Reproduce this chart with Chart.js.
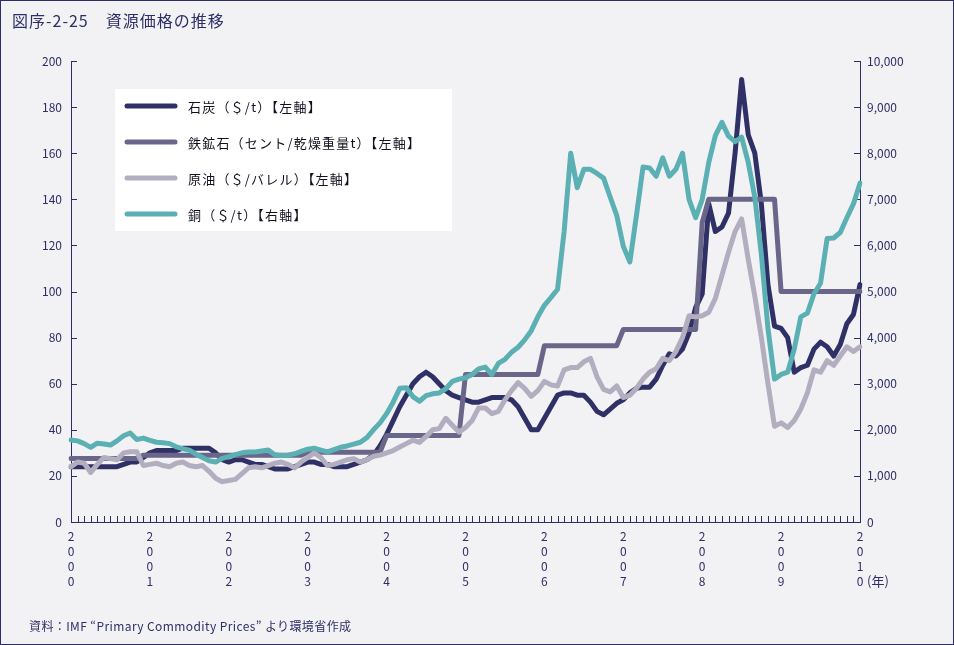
<!DOCTYPE html>
<html lang="ja">
<head>
<meta charset="utf-8">
<script src="https://cdn.jsdelivr.net/npm/chart.js@4.4.1/dist/chart.umd.min.js"></script>
<style>
  html, body { margin: 0; padding: 0; background: #f2f2f5; }
  #wrap { position: relative; width: 954px; height: 645px; overflow: hidden; background: #f2f2f5; }
  #c { position: absolute; left: 0; top: 0; }
  .txt { position: absolute; font-family: 'Noto Sans CJK JP', sans-serif; color: #2e2e66; white-space: nowrap; }
  #title { left: 12px; top: 11px; font-size: 16px; line-height: 18px; letter-spacing: 1px; }
  #note { left: 29px; top: 619px; font-size: 12px; line-height: 14px; letter-spacing: 0.4px; }
  #unit { left: 867px; top: 573px; font-size: 13px; line-height: 15px; }
  #frame { position: absolute; left: 0; top: 0; width: 954px; height: 645px; box-sizing: border-box; border: 1px solid #2e2e66; pointer-events: none; }
</style>
</head>
<body>
<div id="wrap">
  <canvas id="c" width="954" height="645"></canvas>
  <div class="txt" id="title">図序-2-25　資源価格の推移</div>
  <div class="txt" id="note">資料：IMF “Primary Commodity Prices” より環境省作成</div>
  <div class="txt" id="unit">(年)</div>
  <div id="frame"></div>
</div>
<script>
// ---------- data (monthly, Jan 2000 - Jan 2010) ----------
const years = ['2000','2001','2002','2003','2004','2005','2006','2007','2008','2009','2010'];

const seriesNames = [
  '石炭（＄/t）【左軸】',
  '鉄鉱石（セント/乾燥重量t）【左軸】',
  '原油（＄/バレル）【左軸】',
  '銅（＄/t）【右軸】'
];

// Coal ($/t) - left axis
const coal = [
  24,24,24,24,24,24,24,24,25,26,26,28,
  30,31,31,31,31,32,32,32,32,32,30,27,
  26,27,27,26,25,25,24,23,23,23,24,25,
  26,26,25,25,24,24,24,25,26,27,29,33,
  38,44,50,55,60,63,65,63,60,57,55,54,
  53,52,52,53,54,54,54,53,50,45,40,40,
  45,50,55,56,56,55,55,52,48,46.5,49,51.5,
  53,56,58,58.5,58.5,62,68,73,72,75,82,93,
  99,138,126,128,134,160,192,168,160,138,103,85,
  84,80,65,67,68,75,78,76,72,77,86,90,
  103
];

// Iron ore (US cents / dry metric ton unit) - left axis
const ironOre = [
  27.5,27.5,27.5,27.5,27.5,27.5,27.5,27.5,27.5,27.5,27.5,29,
  29,29,29,29,29,29,29,29,29,29,29,29,
  29,29,29,29,29,29,29,29,29,29,29,29,
  30.3,30.3,30.3,30.3,30.3,30.3,30.3,30.3,30.3,30.3,30.3,30.3,
  37.5,37.5,37.5,37.5,37.5,37.5,37.5,37.5,37.5,37.5,37.5,37.5,
  64,64,64,64,64,64,64,64,64,64,64,64,
  76.5,76.5,76.5,76.5,76.5,76.5,76.5,76.5,76.5,76.5,76.5,76.5,
  83.5,83.5,83.5,83.5,83.5,83.5,83.5,83.5,83.5,83.5,83.5,83.5,
  130,140,140,140,140,140,140,140,140,140,140,140,
  100,100,100,100,100,100,100,100,100,100,100,100,
  100
];

// Crude oil ($/barrel) - left axis
const crudeOil = [
  24,26,25.5,21.5,25,28,27.5,27,30,30.5,30.5,24.5,
  25,25.5,24.5,24,25.5,26,24.5,24,24.5,22,19,17.5,
  18,18.5,21,23.5,24,23.5,24.5,25.5,26,25,23.5,26,
  28,30,28,24.5,25,26,27,27.5,26,27,28.5,29,
  30,31,32.5,34,35.5,34.5,37,40,40.5,45,42,39,
  41,44,49.5,49.5,47,48,53,57,60.5,58,54.5,57,
  61,59.5,59,66,67,67,69.5,71,63,57.5,56.5,59,
  54,55,58,62,65,66.5,71,70,74,80,89.5,89,
  89.5,91,97,107,117,126,131.5,114,98,80,60,41.5,
  43,41,44,49,56,66,65,70,68,72,76,74,
  76
];

// Copper ($/t) - right axis
const copper = [
  1780,1760,1700,1620,1710,1690,1670,1760,1870,1930,1790,1820,
  1770,1730,1720,1700,1630,1590,1560,1470,1400,1330,1300,1380,
  1420,1460,1500,1520,1520,1540,1560,1460,1440,1450,1480,1530,
  1580,1600,1560,1520,1570,1620,1650,1690,1730,1830,2000,2150,
  2350,2600,2900,2910,2720,2620,2740,2780,2800,2890,3050,3100,
  3130,3200,3320,3360,3200,3440,3530,3680,3790,3950,4150,4450,
  4700,4870,5050,6300,8000,7250,7650,7650,7560,7460,7050,6650,
  5980,5640,6650,7700,7680,7500,7900,7500,7650,8000,7000,6600,
  7000,7800,8380,8670,8370,8250,8350,7800,7050,5800,4200,3100,
  3200,3250,3750,4450,4530,4950,5180,6150,6160,6280,6600,6900,
  7350
];

// left axis ticks (0-200 step 20), right axis ticks (0-10,000 step 1,000)
const leftTicks  = { min: 0, max: 200, step: 20 };
const rightTicks = { min: 0, max: 10000, step: 1000 };

// monthly categories built from the year list
const months = [];
years.forEach((y, k) => {
  const last = (k === years.length - 1) ? 1 : 12;
  for (let m = 1; m <= last; m++) months.push(y + '-' + String(m).padStart(2, '0'));
});

// ---------- styles ----------
const AXIS = '#2e2e66';
const colors = ['#2f3166', '#696689', '#b3adc0', '#5bb0b4'];
const FONT = "'Noto Sans CJK JP', 'Noto Sans', sans-serif";

Chart.defaults.font.family = FONT;
Chart.defaults.font.size = 12;
Chart.defaults.color = AXIS;

const inwardTicks = {
  id: 'inwardTicks',
  beforeDatasetsDraw(chart) {
    const { ctx, chartArea: a, scales } = chart;
    ctx.save();
    ctx.strokeStyle = AXIS;
    ctx.lineWidth = 1;
    ctx.beginPath();
    const xs = scales.x;
    xs.ticks.forEach((t, i) => {
      const p = Math.round(xs.getPixelForTick(i)) + 0.5;
      ctx.moveTo(p, a.bottom);
      ctx.lineTo(p, a.bottom - 6);
    });
    const yl = scales.y;
    yl.ticks.forEach((t, i) => {
      const p = Math.round(yl.getPixelForTick(i)) + 0.5;
      ctx.moveTo(a.left, p);
      ctx.lineTo(a.left + 6, p);
    });
    const yr = scales.y2;
    yr.ticks.forEach((t, i) => {
      const p = Math.round(yr.getPixelForTick(i)) + 0.5;
      ctx.moveTo(a.right, p);
      ctx.lineTo(a.right - 6, p);
    });
    ctx.stroke();
    ctx.restore();
  }
};

const boxLegend = {
  id: 'boxLegend',
  afterDatasetsDraw(chart, args, opts) {
    const { ctx } = chart;
    ctx.save();
    ctx.fillStyle = '#ffffff';
    ctx.fillRect(opts.x, opts.y, opts.w, opts.h);
    chart.data.datasets.forEach((ds, k) => {
      const yy = opts.firstRow + k * opts.rowStep;
      ctx.strokeStyle = ds.borderColor;
      ctx.lineWidth = ds.borderWidth;
      ctx.lineCap = 'round';
      ctx.beginPath();
      ctx.moveTo(opts.lineX0, yy);
      ctx.lineTo(opts.lineX1, yy);
      ctx.stroke();
      ctx.fillStyle = '#111122';
      ctx.font = '13px ' + FONT;
      if ('letterSpacing' in ctx) ctx.letterSpacing = '1.2px';
      ctx.textBaseline = 'middle';
      ctx.textAlign = 'left';
      ctx.fillText(ds.label, opts.textX, yy + 1);
    });
    ctx.restore();
  }
};

const mkDs = (label, data, color, axis, order) => ({
  label, data, borderColor: color, backgroundColor: color, yAxisID: axis, order,
  borderWidth: 5, pointRadius: 0, pointHoverRadius: 0, tension: 0,
  borderCapStyle: 'round', borderJoinStyle: 'round', fill: false
});

new Chart(document.getElementById('c'), {
  type: 'line',
  data: {
    labels: months,
    datasets: [
      mkDs(seriesNames[0], coal, colors[0], 'y', 3),
      mkDs(seriesNames[1], ironOre, colors[1], 'y', 2),
      mkDs(seriesNames[2], crudeOil, colors[2], 'y', 1),
      mkDs(seriesNames[3], copper, colors[3], 'y2', 0)
    ]
  },
  options: {
    responsive: false,
    animation: false,
    events: [],
    layout: { padding: { left: 0, right: 0, top: 61, bottom: 43 } },
    plugins: {
      legend: { display: false },
      tooltip: { enabled: false },
      title: { display: false },
      boxLegend: { x: 115, y: 89, w: 337, h: 142, firstRow: 106, rowStep: 36, lineX0: 127, lineX1: 175, textX: 188 }
    },
    scales: {
      x: {
        type: 'category',
        offset: false,
        grid: { display: false, drawTicks: false },
        border: { display: true, color: AXIS, width: 1 },
        ticks: {
          autoSkip: false, maxRotation: 0, minRotation: 0, padding: 7,
          font: { size: 12, lineHeight: 1.25 },
          callback: function (v, i) {
            const lab = this.getLabelForValue(v);
            return lab.endsWith('-01') ? lab.slice(0, 4).split('') : '';
          }
        },
        afterFit: (s) => { s.height = 80; }
      },
      y: {
        position: 'left',
        min: leftTicks.min, max: leftTicks.max,
        grid: { display: false, drawTicks: false },
        border: { display: true, color: AXIS, width: 1 },
        ticks: { stepSize: leftTicks.step, padding: 9, font: { size: 12 } },
        afterFit: (s) => { s.width = 71; }
      },
      y2: {
        position: 'right',
        min: rightTicks.min, max: rightTicks.max,
        grid: { display: false, drawTicks: false },
        border: { display: true, color: AXIS, width: 1 },
        ticks: {
          stepSize: rightTicks.step, padding: 7, font: { size: 12 },
          callback: (v) => Number(v).toLocaleString('en-US')
        },
        afterFit: (s) => { s.width = 94; }
      }
    }
  },
  plugins: [inwardTicks, boxLegend]
});
</script>
</body>
</html>
